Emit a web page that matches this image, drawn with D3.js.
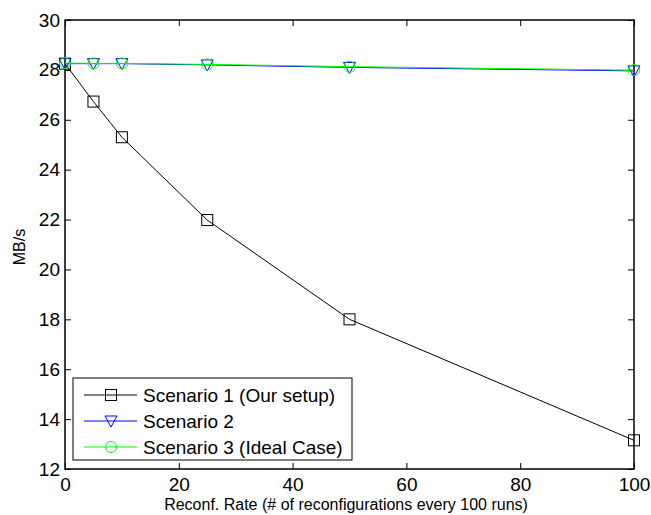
<!DOCTYPE html>
<html><head><meta charset="utf-8">
<script src="https://cdn.jsdelivr.net/npm/d3@7"></script>
<style>body{margin:0;background:#fff}svg{display:block}text{font-family:"Liberation Sans",Arial,sans-serif;fill:#000}</style>
</head><body>
<script>
const xValues = [0, 5, 10, 25, 50, 100];
const scenario1 = [28.25, 26.73, 25.3, 21.98, 18.0, 13.15];
const scenario2 = [28.25, 28.25, 28.25, 28.2, 28.1, 27.96];
const scenario3 = [28.27, 28.26, 28.26, 28.22, 28.13, 27.99];
const seriesNames = ["Scenario 1 (Our setup)", "Scenario 2", "Scenario 3 (Ideal Case)"];
const xTicks = [0, 20, 40, 60, 80, 100];
const yTicks = [12, 14, 16, 18, 20, 22, 24, 26, 28, 30];
const xLabel = "Reconf. Rate (# of reconfigurations every 100 runs)";
const yLabel = "MB/s";

const W = 651, H = 515;
const L = 65, R = 634, T = 20, B = 469;
const svg = d3.select("body").append("svg").attr("width", W).attr("height", H);
const x = d3.scaleLinear().domain([0, 100]).range([L, R]);
const y = d3.scaleLinear().domain([12, 30]).range([B, T]);

const series = [
  {name: seriesNames[0], vals: scenario1, color: "#000000", marker: "square"},
  {name: seriesNames[1], vals: scenario2, color: "#0000ff", marker: "tri"},
  {name: seriesNames[2], vals: scenario3, color: "#00ff00", marker: "circle"}
];

function drawMarker(g, type, cx, cy, color) {
  if (type === "square") {
    g.append("rect").attr("x", cx - 5.5).attr("y", cy - 5.5).attr("width", 11).attr("height", 11)
      .attr("fill", "none").attr("stroke", color).attr("stroke-width", 1);
  } else if (type === "tri") {
    g.append("path").attr("d", `M${cx-6},${cy-5} L${cx+6},${cy-5} L${cx},${cy+6} Z`)
      .attr("fill", "none").attr("stroke", color).attr("stroke-width", 1);
  } else {
    g.append("circle").attr("cx", cx).attr("cy", cy).attr("r", 5.5)
      .attr("fill", "none").attr("stroke", color).attr("stroke-width", 1);
  }
}

// axes (inward ticks on all sides)
const tl = 6;
const axB = svg.append("g").attr("transform", `translate(0,${B})`)
  .call(d3.axisBottom(x).tickValues(xTicks).tickSizeInner(-tl).tickSizeOuter(0).tickPadding(9));
const axT = svg.append("g").attr("transform", `translate(0,${T})`)
  .call(d3.axisTop(x).tickValues(xTicks).tickSizeInner(-tl).tickSizeOuter(0).tickFormat(""));
const axL = svg.append("g").attr("transform", `translate(${L},0)`)
  .call(d3.axisLeft(y).tickValues(yTicks).tickSizeInner(-tl).tickSizeOuter(0).tickPadding(5));
const axR = svg.append("g").attr("transform", `translate(${R},0)`)
  .call(d3.axisRight(y).tickValues(yTicks).tickSizeInner(-tl).tickSizeOuter(0).tickFormat(""));
[axB, axT, axL, axR].forEach(a => {
  a.selectAll(".domain").remove();
  a.selectAll("line").attr("stroke", "#000").attr("stroke-width", 1);
  a.selectAll("text").attr("font-size", 19).attr("font-family", "Liberation Sans, Arial, sans-serif").attr("fill", "#000");
});
axB.selectAll("text").attr("dy", "0.71em");
svg.append("rect").attr("x", L).attr("y", T).attr("width", R - L).attr("height", B - T)
  .attr("fill", "none").attr("stroke", "#000").attr("stroke-width", 1.5);

// series
series.forEach(s => {
  const line = d3.line().x((d, i) => x(xValues[i])).y(d => y(d));
  svg.append("path").datum(s.vals).attr("d", line).attr("fill", "none").attr("stroke", s.color).attr("stroke-width", 1);
  const g = svg.append("g");
  s.vals.forEach((v, i) => drawMarker(g, s.marker, x(xValues[i]), y(v), s.color));
});

// labels
svg.append("text").attr("x", 346).attr("y", 510).attr("text-anchor", "middle").attr("font-size", 16).text(xLabel);
svg.append("text").attr("transform", `translate(25,247) rotate(-90)`).attr("text-anchor", "middle").attr("font-size", 16).text(yLabel);

// legend
const lg = svg.append("g");
lg.append("rect").attr("x", 73).attr("y", 378).attr("width", 279).attr("height", 82)
  .attr("fill", "#fff").attr("stroke", "#000").attr("stroke-width", 1);
const rowY = [395, 421, 447];
series.forEach((s, i) => {
  lg.append("line").attr("x1", 84).attr("x2", 137).attr("y1", rowY[i]).attr("y2", rowY[i]).attr("stroke", s.color).attr("stroke-width", 1);
  drawMarker(lg, s.marker, 111, rowY[i], s.color);
  lg.append("text").attr("x", 143).attr("y", rowY[i]).attr("dy", "0.36em").attr("font-size", 19).text(s.name);
});
</script>
</body></html>
